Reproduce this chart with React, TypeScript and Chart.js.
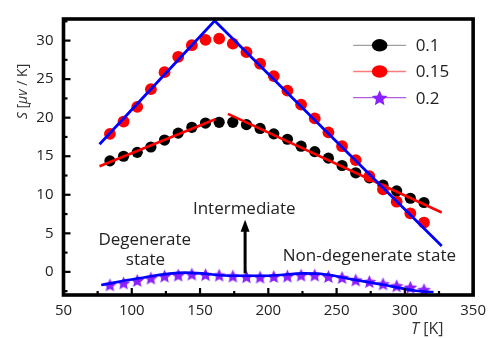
import React, { useEffect, useRef } from 'react';
import { Chart, registerables } from 'chart.js';

Chart.register(...registerables);

const FONT = '"Open Sans", "DejaVu Sans", sans-serif';

// ---- data ----
const temperatureK = [84, 94, 104, 114, 124, 134, 144, 154, 164, 174, 184, 194, 204, 214, 224, 234, 244, 254, 264, 274, 284, 294, 304, 314];
const seebeck01 = [14.4, 15.0, 15.5, 16.2, 17.1, 18.0, 18.75, 19.3, 19.4, 19.4, 19.1, 18.6, 17.9, 17.2, 16.3, 15.6, 14.75, 13.8, 12.85, 12.2, 11.25, 10.5, 9.55, 9.0];
const seebeck015 = [17.9, 19.5, 21.4, 23.7, 25.9, 27.9, 29.4, 30.1, 30.25, 29.6, 28.5, 27.0, 25.4, 23.5, 21.7, 19.9, 18.1, 16.3, 14.5, 12.4, 10.7, 9.1, 7.6, 6.4];
const seebeck02 = [-1.68, -1.43, -1.11, -0.8, -0.54, -0.42, -0.29, -0.35, -0.42, -0.54, -0.63, -0.67, -0.6, -0.54, -0.42, -0.42, -0.6, -0.73, -1.05, -1.26, -1.55, -1.81, -2.0, -2.31];
const seriesLabels = ['0.1', '0.15', '0.2'];

// fit lines
const fit015T = [76.4, 160.7, 327];
const fit015S = [16.55, 32.57, 3.37];
const fit01aT = [76.4, 161.2];
const fit01aS = [13.7, 19.8];
const fit01bT = [170.4, 327];
const fit01bS = [20.5, 7.7];
const fit02T = [77.6, 103, 139, 175, 200, 226, 238, 260, 284, 308, 321];
const fit02S = [-1.7, -0.9, -0.1, -0.5, -0.5, -0.2, -0.25, -0.92, -1.68, -2.44, -2.62];

// axes
const xTicks = [50, 100, 150, 200, 250, 300, 350];
const yTicks = [0, 5, 10, 15, 20, 25, 30];
const xMin = 50, xMax = 350, yMin = -3, yMax = 32.8;

// annotations (data coordinates)
const noteTexts = ['Intermediate', 'Degenerate', 'state', 'Non-degenerate state'];
const noteT = [182.4, 109.5, 110, 274];
const noteS = [8.1, 4.1, 1.5, 2.1];
const arrowT = 183;
const arrowFromS = -0.2;
const arrowToS = 6.75;

const pts = (xs: number[], ys: number[]) => xs.map((x, i) => ({ x, y: ys[i] }));

function drawStarPath(ctx: CanvasRenderingContext2D, cx: number, cy: number, R: number, r: number) {
  ctx.beginPath();
  for (let i = 0; i < 10; i++) {
    const a = -Math.PI / 2 + (i * Math.PI) / 5;
    const rad = i % 2 === 0 ? R : r;
    const px = cx + rad * Math.cos(a);
    const py = cy + rad * Math.sin(a);
    if (i === 0) ctx.moveTo(px, py);
    else ctx.lineTo(px, py);
  }
  ctx.closePath();
}

function makeStar(size: number, color: string) {
  const c = document.createElement('canvas');
  c.width = size;
  c.height = size;
  const ctx = c.getContext('2d')!;
  const R = size / 2 - 0.3;
  ctx.fillStyle = color;
  drawStarPath(ctx, size / 2, size / 2 + R * 0.095, R, R * 0.47);
  ctx.fill();
  return c;
}

const decorPlugin = {
  id: 'decor',
  afterDatasetsDraw(chart: any) {
    const { ctx, scales } = chart;
    const xs = scales.x, ys = scales.y;
    ctx.save();
    ctx.fillStyle = '#222';
    ctx.font = `17px ${FONT}`;
    ctx.textAlign = 'center';
    ctx.textBaseline = 'middle';
    noteTexts.forEach((t, i) => {
      ctx.fillText(t, xs.getPixelForValue(noteT[i]), ys.getPixelForValue(noteS[i]));
    });
    // arrow
    const ax = xs.getPixelForValue(arrowT);
    const ay0 = ys.getPixelForValue(arrowFromS);
    const ay1 = ys.getPixelForValue(arrowToS);
    ctx.strokeStyle = '#000';
    ctx.fillStyle = '#000';
    ctx.lineWidth = 3;
    ctx.beginPath();
    ctx.moveTo(ax, ay0);
    ctx.lineTo(ax, ay1 + 10);
    ctx.stroke();
    ctx.beginPath();
    ctx.moveTo(ax, ay1);
    ctx.lineTo(ax - 4.5, ay1 + 12);
    ctx.lineTo(ax + 4.5, ay1 + 12);
    ctx.closePath();
    ctx.fill();
    ctx.restore();
  },
  afterDraw(chart: any) {
    const { ctx, chartArea, scales } = chart;
    const { left, right, top, bottom } = chartArea;
    const xs = scales.x, ys = scales.y;
    ctx.save();
    // ticks
    ctx.strokeStyle = '#000';
    ctx.lineWidth = 2.2;
    const xStep = xTicks[1] - xTicks[0];
    const yStep = yTicks[1] - yTicks[0];
    for (let v = xMin; v <= xMax + 1e-6; v += xStep / 2) {
      const major = xTicks.includes(v);
      const px = xs.getPixelForValue(v);
      const len = major ? 7 : 4;
      ctx.beginPath();
      ctx.moveTo(px, bottom);
      ctx.lineTo(px, bottom - len);
      ctx.stroke();
    }
    for (let v = yTicks[0] - yStep; v <= yMax; v += yStep / 2) {
      if (v <= yMin) continue;
      const major = yTicks.includes(v);
      const py = ys.getPixelForValue(v);
      const len = major ? 7 : 4;
      ctx.beginPath();
      ctx.moveTo(left, py);
      ctx.lineTo(left + len, py);
      ctx.stroke();
    }
    // frame
    ctx.lineWidth = 3.6;
    ctx.strokeRect(left, top, right - left, bottom - top);

    // legend
    const datasets = chart.data.datasets.filter((d: any) => seriesLabels.includes(d.label));
    const lx0 = right - 120;
    const lx1 = right - 67;
    const mx = (lx0 + lx1) / 2;
    const tx = right - 57.5;
    datasets.forEach((d: any, i: number) => {
      const y = top + 26.3 + i * 26.2;
      ctx.strokeStyle = d.borderColor;
      ctx.lineWidth = 1.3;
      ctx.beginPath();
      ctx.moveTo(lx0, y);
      ctx.lineTo(lx1, y);
      ctx.stroke();
      ctx.fillStyle = d.pointBackgroundColor;
      if (d.legendStar) {
        drawStarPath(ctx, mx, y + 0.8, 8.2, 8.2 * 0.47);
        ctx.fill();
      } else {
        ctx.beginPath();
        ctx.ellipse(mx, y, 7.8, 6.2, 0, 0, Math.PI * 2);
        ctx.fill();
      }
      ctx.fillStyle = '#222';
      ctx.font = `17px ${FONT}`;
      ctx.textAlign = 'left';
      ctx.textBaseline = 'middle';
      ctx.fillText(d.label, tx, y + 1);
    });

    // axis titles
    ctx.fillStyle = '#333';
    ctx.textBaseline = 'middle';
    // x title: "T [K]"
    ctx.font = `italic 16px ${FONT}`;
    const tW = ctx.measureText('T').width;
    ctx.font = `16px ${FONT}`;
    const restW = ctx.measureText(' [K]').width;
    const xEnd = 443.5;
    const xStart = xEnd - tW - restW;
    ctx.textAlign = 'left';
    ctx.font = `italic 16px ${FONT}`;
    ctx.fillText('T', xStart, 329);
    ctx.font = `16px ${FONT}`;
    ctx.fillText(' [K]', xStart + tW, 329);

    // y title: "S [μv / K]"
    const parts: [string, boolean][] = [['S', true], [' [', false], ['μv', true], [' / K]', false]];
    let total = 0;
    const widths = parts.map(([t, it]) => {
      ctx.font = `${it ? 'italic ' : ''}14px ${FONT}`;
      const w = ctx.measureText(t).width;
      total += w;
      return w;
    });
    ctx.translate(22.7, top + 72.5);
    ctx.rotate(-Math.PI / 2);
    let cx = -total / 2;
    parts.forEach(([t, it], i) => {
      ctx.font = `${it ? 'italic ' : ''}14px ${FONT}`;
      ctx.fillText(t, cx, 0);
      cx += widths[i];
    });
    ctx.restore();
  },
};

export default function App() {
  const ref = useRef<HTMLCanvasElement>(null);
  useEffect(() => {
    const canvas = ref.current!;
    const star = makeStar(15, '#8a1fff');
    const chart = new Chart(canvas, {
      type: 'scatter',
      data: {
        datasets: [
          {
            label: 'fit015', data: pts(fit015T, fit015S), showLine: true, borderColor: '#0000ff', borderWidth: 2.8,
            pointRadius: 0, order: 0, fill: false,
          },
          {
            label: 'fit01a', data: pts(fit01aT, fit01aS), showLine: true, borderColor: '#ff0000', borderWidth: 2.5,
            pointRadius: 0, order: 0, fill: false,
          },
          {
            label: 'fit01b', data: pts(fit01bT, fit01bS), showLine: true, borderColor: '#ff0000', borderWidth: 2.5,
            pointRadius: 0, order: 0, fill: false,
          },
          {
            label: 'fit02', data: pts(fit02T, fit02S), showLine: true, borderColor: '#0000ff', borderWidth: 2.6,
            pointRadius: 0, order: 0, fill: false, cubicInterpolationMode: 'monotone',
          },
          {
            label: seriesLabels[0], data: pts(temperatureK, seebeck01), showLine: false,
            borderColor: '#a0a0a0', pointBackgroundColor: '#000000', pointBorderWidth: 0,
            pointRadius: 5.6, pointStyle: 'circle', order: 3,
          },
          {
            label: seriesLabels[1], data: pts(temperatureK, seebeck015), showLine: false,
            borderColor: '#ff7a7a', pointBackgroundColor: '#ff0000', pointBorderWidth: 0,
            pointRadius: 5.9, pointStyle: 'circle', order: 2,
          },
          {
            label: seriesLabels[2], data: pts(temperatureK, seebeck02), showLine: false,
            borderColor: '#b05ce6', pointBackgroundColor: '#8a1fff', pointBorderWidth: 0,
            pointRadius: 7.5, pointStyle: star, order: 1, legendStar: true,
          } as any,
        ],
      },
      options: {
        responsive: false,
        animation: false,
        layout: { padding: { top: 12, right: 14.5, left: 0, bottom: 0 } },
        plugins: { legend: { display: false }, tooltip: { enabled: false } },
        scales: {
          x: {
            type: 'linear', min: xMin, max: xMax,
            grid: { display: false, drawTicks: false }, border: { display: false },
            afterBuildTicks: (s: any) => { s.ticks = xTicks.map((v) => ({ value: v })); },
            afterFit: (s: any) => { s.height = 43; },
            ticks: { padding: 7, color: '#222', font: { family: FONT, size: 15 }, autoSkip: false, maxRotation: 0, callback: (v: any) => String(v) },
          },
          y: {
            type: 'linear', min: yMin, max: yMax,
            grid: { display: false, drawTicks: false }, border: { display: false },
            afterBuildTicks: (s: any) => { s.ticks = yTicks.map((v) => ({ value: v })); },
            afterFit: (s: any) => { s.width = 63.5; },
            ticks: { padding: 10, color: '#222', font: { family: FONT, size: 15 }, autoSkip: false, callback: (v: any) => String(v) },
          },
        },
      },
      plugins: [decorPlugin],
    } as any);
    return () => chart.destroy();
  }, []);
  return (
    <div style={{ position: 'absolute', left: 0, top: 0, width: 493, height: 338 }}>
      <canvas ref={ref} width={493} height={338} style={{ display: 'block' }} />
    </div>
  );
}
